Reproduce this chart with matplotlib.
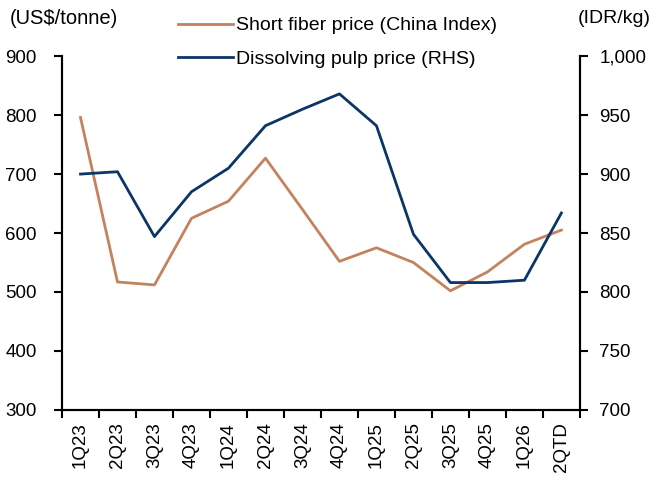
import numpy as np
import matplotlib.pyplot as plt
from matplotlib.lines import Line2D

plt.rcParams['font.family'] = ['Liberation Sans', 'DejaVu Sans']
plt.rcParams['font.size'] = 13.5

quarters = ['1Q23', '2Q23', '3Q23', '4Q23', '1Q24', '2Q24', '3Q24', '4Q24',
            '1Q25', '2Q25', '3Q25', '4Q25', '1Q26', '2QTD']
short_fiber = [796, 517, 512, 625, 654, 727, 640, 552, 575, 550, 502, 534, 581, 605]
dissolving_pulp = [900, 902, 847, 885, 905, 941, 955, 968, 941, 849, 808, 808, 810, 867]

c_orange = '#C4825E'
c_navy = '#0B3566'

fig = plt.figure(figsize=(6.56, 4.8), dpi=100)
ax = fig.add_axes([0.0945, 0.146, 0.7895, 0.737])
ax2 = ax.twinx()

x = np.arange(len(quarters))
ax.plot(x, short_fiber, color=c_orange, lw=2.0)
ax2.plot(x, dissolving_pulp, color=c_navy, lw=2.0)

ax.set_xlim(-0.5, len(quarters) - 0.5)
ax.set_ylim(300, 900)
ax.set_yticks(range(300, 901, 100))
ax2.set_ylim(700, 1000)
ax2.set_yticks(range(700, 1001, 50))
ax2.set_yticklabels([f'{v:,}' for v in range(700, 1001, 50)])

# ticks between categories, labels at centres
ax.set_xticks(np.arange(-0.5, len(quarters), 1.0))
ax.set_xticklabels([])
ax.set_xticks(x, minor=True)
ax.set_xticklabels(quarters, minor=True, rotation=90)
ax.tick_params(axis='x', which='minor', length=0, pad=9)
ax.tick_params(axis='x', which='major', length=6, width=1.5, direction='out')
ax.tick_params(axis='y', length=6, width=1.5, direction='out', pad=12)
ax2.tick_params(axis='y', length=6, width=1.5, direction='out', pad=8)

for a in (ax, ax2):
    a.spines['top'].set_visible(False)
    for s in ('left', 'right', 'bottom'):
        a.spines[s].set_linewidth(1.5)

fig.text(0.015, 0.962, '(US$/tonne)', ha='left', va='center', fontsize=14.5)
fig.text(0.992, 0.962, '(IDR/kg)', ha='right', va='center', fontsize=14)

handles = [Line2D([], [], color=c_orange, lw=2.0),
           Line2D([], [], color=c_navy, lw=2.0)]
fig.legend(handles, ['Short fiber price (China Index)', 'Dissolving pulp price (RHS)'],
           loc='upper left', bbox_to_anchor=(0.2713, 0.965), frameon=False,
           fontsize=14, handlelength=2.83, handletextpad=0.15, labelspacing=0.8,
           borderpad=0, borderaxespad=0)

fig.savefig('out.png', dpi=100)
